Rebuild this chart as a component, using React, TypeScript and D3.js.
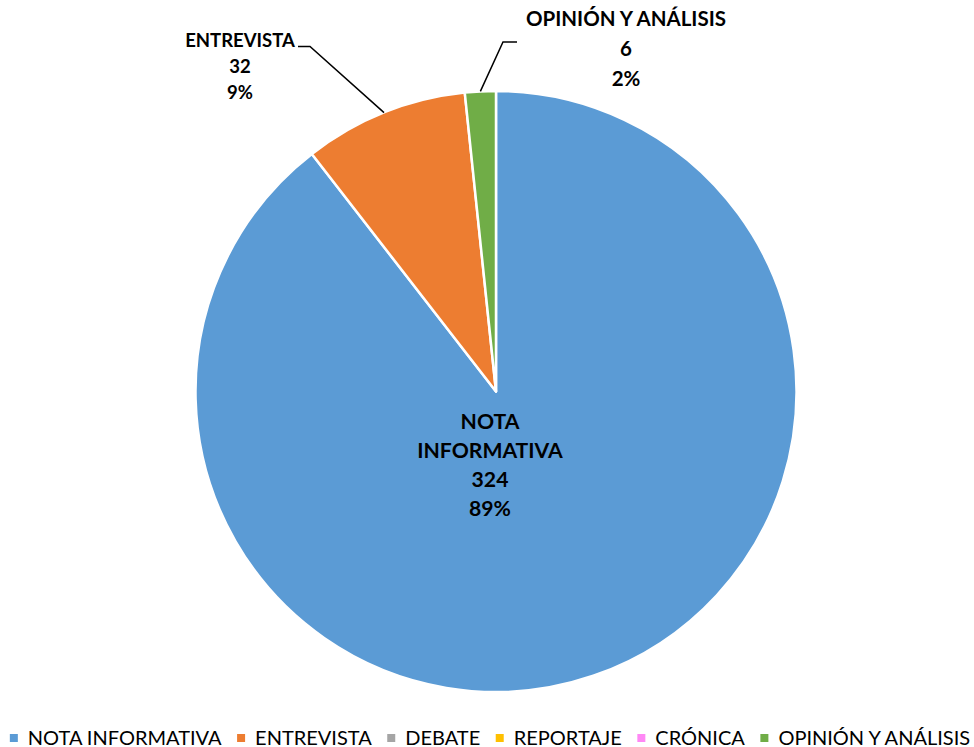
import React, { useLayoutEffect, useRef, useState } from "react";
import * as d3 from "d3";

// ---- Data ----
const categories = [
  "NOTA INFORMATIVA",
  "ENTREVISTA",
  "DEBATE",
  "REPORTAJE",
  "CRÓNICA",
  "OPINIÓN Y ANÁLISIS",
];
const values = [324, 32, 0, 0, 0, 6];
const percentLabels = ["89%", "9%", "0%", "0%", "0%", "2%"];
const colors = ["#5B9BD5", "#ED7D31", "#A5A5A5", "#FFC000", "#FF88F5", "#70AD47"];

// ---- Layout ----
const W = 974;
const H = 747;
const CX = 496;
const CY = 391.5;
const R = 300.5;
const FONT = "Lato, 'Open Sans', 'Noto Sans', sans-serif";

type LabelLayout = {
  index: number;
  lines: string[];
  x: number;
  baselines: number[];
  fontSize: number;
  leader?: { x0: number; y0: number; x1: number; y1: number };
};

export default function App() {
  const pie = d3
    .pie<number>()
    .sort(null)
    .value((d) => d)
    .startAngle(0)
    .endAngle(2 * Math.PI);
  const arcs = pie(values);
  const arcGen = d3.arc<d3.PieArcDatum<number>>().innerRadius(0).outerRadius(R);

  const edgePoint = (i: number) => {
    const a = (arcs[i].startAngle + arcs[i].endAngle) / 2;
    return [CX + R * Math.sin(a), CY - R * Math.cos(a)];
  };

  const labels: LabelLayout[] = [
    {
      index: 0,
      lines: ["NOTA", "INFORMATIVA", String(values[0]), percentLabels[0]],
      x: 490,
      baselines: [428.5, 458, 487, 515.5],
      fontSize: 21.2,
    },
    {
      index: 1,
      lines: [categories[1], String(values[1]), percentLabels[1]],
      x: 240,
      baselines: [47, 73, 99],
      fontSize: 18.5,
      leader: { x0: 298, y0: 46.5, x1: 310, y1: 46.5 },
    },
    {
      index: 5,
      lines: [categories[5], String(values[5]), percentLabels[5]],
      x: 626,
      baselines: [26, 56, 85.5],
      fontSize: 20.5,
      leader: { x0: 517, y0: 42, x1: 503, y1: 42 },
    },
  ];

  // Legend measurement
  const textRefs = useRef<(SVGTextElement | null)[]>([]);
  const [widths, setWidths] = useState<number[]>(categories.map((c) => c.length * 11));
  useLayoutEffect(() => {
    const w = textRefs.current.map((t) => (t ? t.getComputedTextLength() : 0));
    if (w.some((v, i) => Math.abs(v - widths[i]) > 0.5)) setWidths(w);
  });

  const SQ = 8;
  const GAP_SQ_TEXT = 10;
  const GAP_ITEM = 15.5;
  const total =
    widths.reduce((s, w) => s + w + SQ + GAP_SQ_TEXT, 0) + GAP_ITEM * (categories.length - 1);
  let lx = 490 - total / 2;
  const legendItems = categories.map((c, i) => {
    const x = lx;
    lx += SQ + GAP_SQ_TEXT + widths[i] + GAP_ITEM;
    return { c, i, x };
  });

  return (
    <svg
      width={W}
      height={H}
      style={{ position: "absolute", left: 0, top: 0, background: "#fff" }}
      fontFamily={FONT}
    >
      <rect width={W} height={H} fill="#fff" />
      <g>
        {arcs.map((a, i) =>
          a.endAngle - a.startAngle > 0 ? (
            <path
              key={i}
              d={arcGen(a) || ""}
              transform={`translate(${CX},${CY})`}
              fill={colors[i]}
              stroke="#fff"
              strokeWidth={2.5}
              strokeLinejoin="round"
            />
          ) : null
        )}
      </g>
      {labels.map((l) => {
        const [ex, ey] = edgePoint(l.index);
        return (
          <g key={l.index}>
            {l.leader && (
              <polyline
                points={`${l.leader.x0},${l.leader.y0} ${l.leader.x1},${l.leader.y1} ${ex},${ey}`}
                fill="none"
                stroke="#000"
                strokeWidth={1.5}
              />
            )}
            {l.lines.map((t, j) => (
              <text
                key={j}
                x={l.x}
                y={l.baselines[j]}
                textAnchor="middle"
                fontWeight="bold"
                fontSize={l.fontSize}
                fill="#000"
              >
                {t}
              </text>
            ))}
          </g>
        );
      })}
      <g>
        {legendItems.map(({ c, i, x }) => (
          <g key={c}>
            <rect x={x} y={734} width={SQ} height={SQ} fill={colors[i]} />
            <text
              ref={(el) => {
                textRefs.current[i] = el;
              }}
              x={x + SQ + GAP_SQ_TEXT}
              y={744.5}
              fontSize={20}
              fill="#000"
            >
              {c}
            </text>
          </g>
        ))}
      </g>
    </svg>
  );
}
